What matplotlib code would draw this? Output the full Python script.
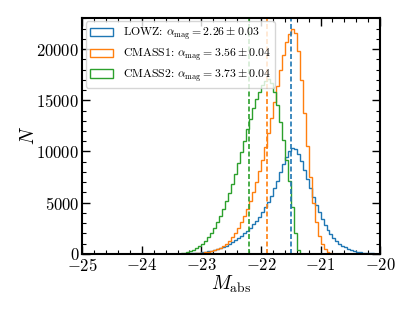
import numpy as np
import matplotlib
matplotlib.use("Agg")
import matplotlib.pyplot as plt
from matplotlib.ticker import MultipleLocator

plt.rcParams['font.family'] = 'serif'
plt.rcParams['font.serif'] = ['cmr10']
plt.rcParams['mathtext.fontset'] = 'cm'
plt.rcParams['axes.formatter.use_mathtext'] = True

# bin edges: 0.05 mag bins from -23.6 to -20.0
edges = np.round(np.linspace(-23.6, -20.0, 73), 3)

# counts per bin
lowz = [0, 0, 5, 8, 12, 18, 25, 35, 48, 65, 88, 115,
        150, 195, 250, 315, 390, 475, 570, 680, 810, 960, 1130, 1320,
        1530, 1760, 2010, 2280, 2570, 2890, 3240, 3630, 4060, 4540, 5080, 5700,
        6400, 7150, 7950, 8750, 9450, 10000, 10330, 10200, 9750, 9050, 8200, 7300,
        6400, 5550, 4750, 4050, 3400, 2850, 2350, 1920, 1560, 1260, 1010, 810,
        640, 500, 390, 300, 230, 175, 130, 95, 70, 50, 35, 25]
cmass1 = [0, 0, 0, 3, 6, 10, 15, 22, 32, 45, 62, 85,
          115, 155, 210, 280, 370, 480, 620, 800, 1020, 1300, 1640, 2050,
          2530, 3080, 3700, 4400, 5180, 6050, 7000, 8050, 9200, 10450, 11800, 13250,
          14800, 16400, 18000, 19450, 20650, 21500, 21950, 21600, 19800, 17000, 13800, 10500,
          7500, 5000, 3100, 1800, 950, 450, 200, 80, 30, 10, 3, 0,
          0, 0, 0, 0, 0, 0, 0, 0, 0, 0, 0, 0]
cmass2 = [0, 0, 0, 10, 30, 60, 105, 170, 260, 380, 540, 740,
          990, 1290, 1650, 2070, 2550, 3090, 3700, 4380, 5130, 5950, 6850, 7820,
          8860, 9950, 11050, 12150, 13200, 14200, 15100, 15850, 16450, 16900, 17050, 16700,
          15800, 14500, 12900, 11100, 9200, 7100, 4600, 2000, 400, 20, 0, 0,
          0, 0, 0, 0, 0, 0, 0, 0, 0, 0, 0, 0,
          0, 0, 0, 0, 0, 0, 0, 0, 0, 0, 0, 0]

labels = [r'LOWZ: $\alpha_{\rm mag} = 2.26 \pm 0.03$',
          r'CMASS1: $\alpha_{\rm mag} = 3.56 \pm 0.04$',
          r'CMASS2: $\alpha_{\rm mag} = 3.73 \pm 0.04$']
colors = ['tab:blue', 'tab:orange', 'tab:green']
vlines = [-21.50, -21.90, -22.20]

fig = plt.figure(figsize=(4.15, 3.12), dpi=100)
ax = fig.add_axes([0.198, 0.186, 0.718, 0.757])

centers = 0.5 * (edges[1:] + edges[:-1])
for counts, lab, c in zip([lowz, cmass1, cmass2], labels, colors):
    ax.hist(centers, bins=edges, weights=counts, histtype='step', color=c, lw=1, label=lab)
for v, c in zip(vlines, colors):
    ax.axvline(v, color=c, ls='--', lw=1.2, dashes=(3, 1.5))

ax.set_xlim(-25, -20)
ax.xaxis.set_major_locator(MultipleLocator(1))
ax.xaxis.set_minor_locator(MultipleLocator(0.2))
ax.yaxis.set_major_locator(MultipleLocator(5000))
ax.yaxis.set_minor_locator(MultipleLocator(1000))
ax.tick_params(which='both', direction='in', top=True, right=True, labelsize=12, pad=2)
ax.tick_params(which='major', length=6, width=1)
ax.tick_params(which='minor', length=3, width=0.8)
for s in ax.spines.values():
    s.set_linewidth(1.5)

ax.set_xlabel(r'$M_{\rm abs}$', fontsize=14, labelpad=0)
ax.set_ylabel(r'$N$', fontsize=14, labelpad=-1)
ax.legend(loc='upper left', fontsize=8.5, handlelength=2.0, handletextpad=0.8,
          borderpad=0.35, labelspacing=0.35, borderaxespad=0.3)

fig.savefig('out.png', dpi=100)
